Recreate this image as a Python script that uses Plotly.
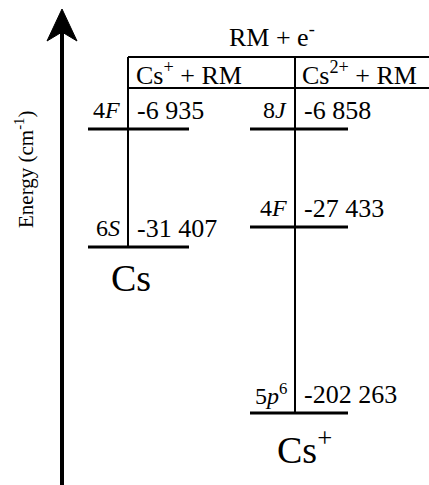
import plotly.graph_objects as go

# ---- data ----
level_names = ["4<i>F</i>", "6<i>S</i>", "8<i>J</i>", "4<i>F</i>", "5<i>p</i><sup>6</sup>"]
level_energies = ["-6 935", "-31 407", "-6 858", "-27 433", "-202 263"]
level_column = [0, 0, 1, 1, 1]
# schematic vertical placement of each level (diagram units, top = 0)
level_pos = [129, 247, 129, 227, 413]
column_names = ["Cs<sup>+</sup> + RM", "Cs<sup>2+</sup> + RM"]
ground_names = ["Cs", "Cs<sup>+</sup>"]
top_label = "RM + e<sup>-</sup>"
axis_label = "Energy (cm<sup>-1</sup>)"

# ---- layout geometry ----
W, H = 429, 485
col_x = [128, 295]          # vertical connector x
lvl_half = [(40, 61), (45, 53)]  # left/right extents of level bars from connector
FONT = "Liberation Serif, Times New Roman, Times, serif"

fig = go.Figure()
shapes = []
ann = []

# energy arrow
shapes.append(dict(type="line", x0=62, x1=62, y0=485, y1=30,
                   line=dict(color="black", width=4)))
shapes.append(dict(type="path", path="M 62 9 L 77 41 L 62 32 L 47 41 Z",
                   fillcolor="black", line=dict(color="black", width=1)))
ann.append(dict(x=24, y=170, text=axis_label, textangle=-90, showarrow=False,
                font=dict(size=21, family=FONT, color="black"),
                xanchor="center", yanchor="middle"))

# top box
shapes.append(dict(type="line", x0=col_x[0], x1=W, y0=57, y1=57,
                   line=dict(color="black", width=2)))
shapes.append(dict(type="line", x0=col_x[0], x1=W, y0=88, y1=88,
                   line=dict(color="black", width=2)))
ann.append(dict(x=272, y=35, text=top_label, showarrow=False,
                font=dict(size=26, family=FONT, color="black"),
                xanchor="center", yanchor="middle"))
col_label_x = [134, 300]
for i, nm in enumerate(column_names):
    ann.append(dict(x=col_label_x[i], y=73, text=nm, showarrow=False,
                    font=dict(size=26, family=FONT, color="black"),
                    xanchor="left", yanchor="middle"))

# vertical connectors down to the lowest level of each column
for c in range(2):
    lows = [level_pos[i] for i in range(len(level_pos)) if level_column[i] == c]
    shapes.append(dict(type="line", x0=col_x[c], x1=col_x[c], y0=57, y1=max(lows),
                       line=dict(color="black", width=2)))

# levels
for i, (nm, en, c, y) in enumerate(zip(level_names, level_energies, level_column, level_pos)):
    x = col_x[c]
    shapes.append(dict(type="line", x0=x - lvl_half[c][0], x1=x + lvl_half[c][1],
                       y0=y, y1=y, line=dict(color="black", width=3)))
    ann.append(dict(x=x - 6, y=y - 19, text=nm, showarrow=False,
                    font=dict(size=24, family=FONT, color="black"),
                    xanchor="right", yanchor="middle"))
    ann.append(dict(x=x + 7, y=y - 19, text=en, showarrow=False,
                    font=dict(size=26, family=FONT, color="black"),
                    xanchor="left", yanchor="middle"))

# ground-state labels
ground_xy = [(131, 278), (304, 447)]
for nm, (gx, gy) in zip(ground_names, ground_xy):
    ann.append(dict(x=gx, y=gy, text=nm, showarrow=False,
                    font=dict(size=38, family=FONT, color="black"),
                    xanchor="center", yanchor="middle"))

fig.update_layout(
    width=W, height=H, margin=dict(l=0, r=0, t=0, b=0),
    paper_bgcolor="white", plot_bgcolor="white",
    xaxis=dict(range=[0, W], visible=False, fixedrange=True),
    yaxis=dict(range=[H, 0], visible=False, fixedrange=True),
    shapes=shapes, annotations=ann, showlegend=False,
)
fig.write_html("out.html", config={"displayModeBar": False},
               post_script="document.body.style.margin='0';document.body.style.overflow='hidden';")
